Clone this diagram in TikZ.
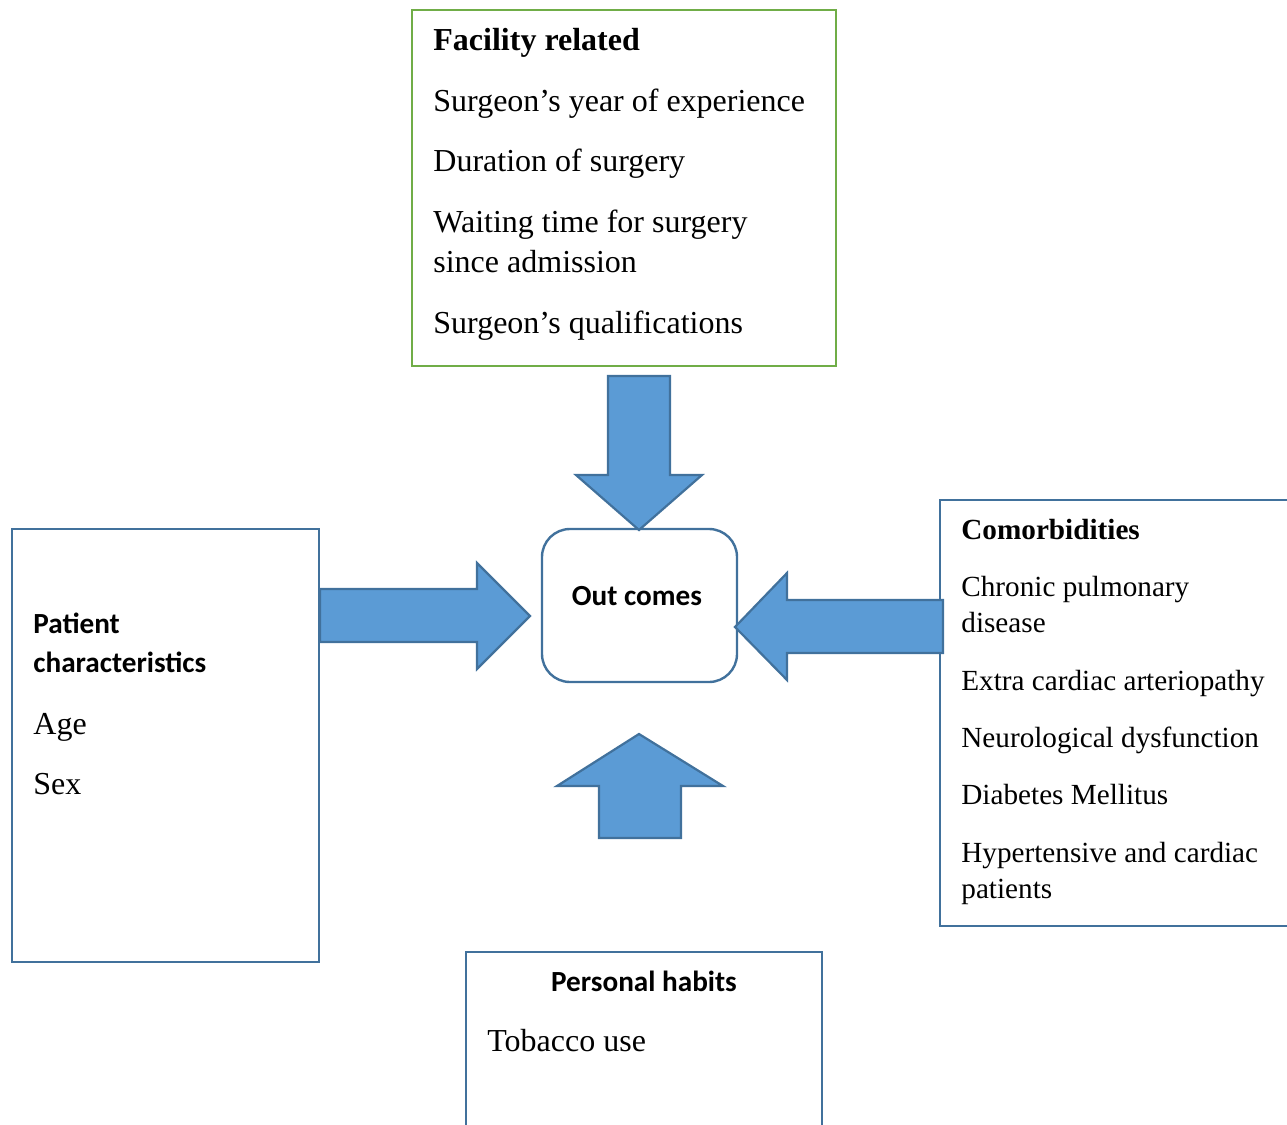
\documentclass[tikz,border=0pt]{standalone}
\usepackage{fontspec}
\setmainfont{Liberation Serif}
\newfontfamily\calibri{Carlito}
\usepackage{tikz}
\usetikzlibrary{positioning}
\definecolor{boxgreen}{HTML}{70AD47}
\definecolor{boxblue}{HTML}{41719C}
\definecolor{arrowfill}{HTML}{5B9BD5}
\tikzset{
  txt/.style={anchor=base west,inner sep=0pt,font=\fontsize{16}{19}\selectfont},
  txtbold/.style={anchor=base west,inner sep=0pt,font=\bfseries\fontsize{16}{19}\selectfont},
  txtsm/.style={anchor=base west,inner sep=0pt,font=\fontsize{14.6}{17}\selectfont},
  txtsmbold/.style={anchor=base west,inner sep=0pt,font=\bfseries\fontsize{14.6}{17}\selectfont},
  head/.style={anchor=base west,inner sep=0pt,font=\calibri\bfseries\fontsize{14.6}{17}\selectfont},
  blockarrow/.style={fill=arrowfill,draw=boxblue,line width=1.1pt,line join=miter},
}

\begin{document}
\begin{tikzpicture}[x=0.5pt,y=-0.5pt]
    \useasboundingbox (0,0) rectangle (1287,1125);
    \clip (0,0) rectangle (1287,1125);
    % Boxes
    \draw[line width=1.2pt,boxgreen] (412,10) rectangle (836,366);
    \draw[line width=1.2pt,boxblue] (12,529) rectangle (319,962);
    \draw[line width=1.2pt,boxblue] (940,500) rectangle (1300,926);
    \draw[line width=1.2pt,boxblue] (466,952) rectangle (822,1140);
    \draw[line width=1.2pt,boxblue,rounded corners=14pt] (542,529) rectangle (737,682);
    % Arrows
    \draw[blockarrow] (608,376) -- (670,376) -- (670,475) -- (702,475) -- (639,530) -- (576,475) -- (608,475) -- cycle;
    \draw[blockarrow] (320,589) -- (477,589) -- (477,563) -- (530,616) -- (477,669) -- (477,642) -- (320,642) -- cycle;
    \draw[blockarrow] (943,600) -- (787,600) -- (787,573) -- (735,627) -- (787,680) -- (787,653) -- (943,653) -- cycle;
    \draw[blockarrow] (639,734) -- (723,786) -- (681,786) -- (681,838) -- (599,838) -- (599,786) -- (557,786) -- cycle;
    % Facility related
    \node[txtbold] (fac) at (433,50) {Facility related};
    \node[txt] (fac1) at (433,111) {Surgeon’s year of experience};
    \node[txt] (fac2) at (433,171) {Duration of surgery};
    \node[txt] (fac3) at (433,232) {Waiting time for surgery};
    \node[txt] (fac3b) at (433,272) {since admission};
    \node[txt] (fac4) at (433,333) {Surgeon’s qualifications};
    % Out comes
    \node[head,anchor=base] (out) at (637,605) {Out comes};
    % Patient characteristics
    \node[head] (pat) at (33,633) {Patient};
    \node[head] (patb) at (33,672) {characteristics};
    \node[txt] (pat1) at (33,734) {Age};
    \node[txt] (pat2) at (33,794) {Sex};
    % Comorbidities
    \node[txtsmbold] (com) at (961,539) {Comorbidities};
    \node[txtsm] (com1) at (961,596) {Chronic pulmonary};
    \node[txtsm] (com1b) at (961,632) {disease};
    \node[txtsm] (com2) at (961,690) {Extra cardiac arteriopathy};
    \node[txtsm] (com3) at (961,747) {Neurological dysfunction};
    \node[txtsm] (com4) at (961,804) {Diabetes Mellitus};
    \node[txtsm] (com5) at (961,862) {Hypertensive and cardiac};
    \node[txtsm] (com5b) at (961,898) {patients};
    % Personal habits
    \node[head,anchor=base] (hab) at (644,991) {Personal habits};
    \node[txt] (hab1) at (487,1051) {Tobacco use};
\end{tikzpicture}
\end{document}
